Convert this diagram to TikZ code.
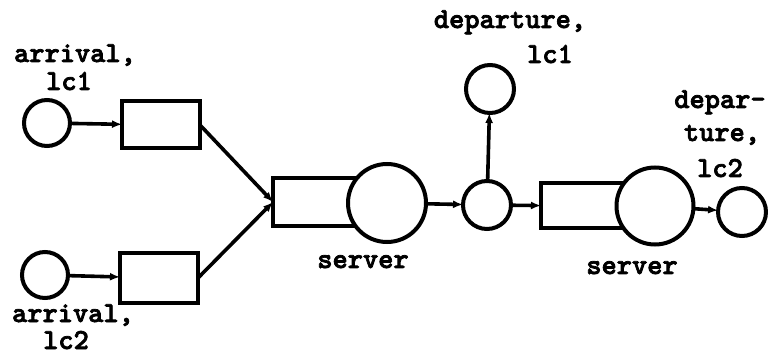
\documentclass[tikz,border=0pt]{standalone}
\usepackage{fontspec}
\newfontfamily\twfont[FakeBold=2.5]{lmmonolt10-bold.otf}
\usetikzlibrary{arrows.meta}
\begin{document}
\begin{tikzpicture}[x=1pt,y=-1pt,
  every node/.style={inner sep=0pt,outer sep=0pt},
  circ/.style={draw,circle,line width=4pt},
  qbox/.style={draw,rectangle,line width=4pt},
  lbl/.style={font=\fontsize{29}{33}\twfont,anchor=base},
  arr/.style={line width=3.6pt,-{Latex[length=10pt,width=8pt]}}]
\useasboundingbox (0,0) rectangle (768,355);
% arrivals
\node[circ,minimum size=46pt] (a1) at (47,123) {};
\node[circ,minimum size=46pt] (a2) at (45,275) {};
\node[qbox,minimum width=78pt,minimum height=47pt] (q1) at (161,125) {};
\node[qbox,minimum width=78pt,minimum height=49pt] (q2) at (159,278) {};
% first station
\node[qbox,minimum width=82pt,minimum height=48pt,anchor=west] (q3) at (273,202) {};
\node[circ,fill=white,minimum size=78pt] (s1) at (387,203) {};
% split
\node[circ,minimum size=48pt] (sp) at (487,205) {};
\node[circ,minimum size=48pt] (d1) at (490,89) {};
% second station
\node[qbox,minimum width=82pt,minimum height=45pt,anchor=west] (q4) at (541,206) {};
\node[circ,fill=white,minimum size=77pt] (s2) at (655,206) {};
\node[circ,minimum size=48pt] (d2) at (742,212) {};
% labels
\node[lbl] (la1a) at (75,62) {arrival,};
\node[lbl] (la1b) at (69,90) {lc1};
\node[lbl] (la2a) at (73,322) {arrival,};
\node[lbl] (la2b) at (66,349) {lc2};
\node[lbl] (ls1) at (363,268) {server};
\node[lbl] (ls2) at (632,274) {server};
\node[lbl] (ld1a) at (510,28) {departure,};
\node[lbl] (ld1b) at (550,63) {lc1};
\node[lbl] (ld2a) at (720,108) {depar-};
\node[lbl] (ld2b) at (722,141) {ture,};
\node[lbl] (ld2c) at (720,177) {lc2};
% connectors
\draw[arr] (a1) -- (q1);
\draw[arr] (a2) -- (q2);
\draw[arr] (q1.east) -- (q3.west);
\draw[arr] (q2.east) -- (q3.west);
\draw[arr] (s1) -- (sp);
\draw[arr] (sp) -- (d1);
\draw[arr] (sp) -- (q4);
\draw[arr] (s2) -- (d2);
\end{tikzpicture}
\end{document}
